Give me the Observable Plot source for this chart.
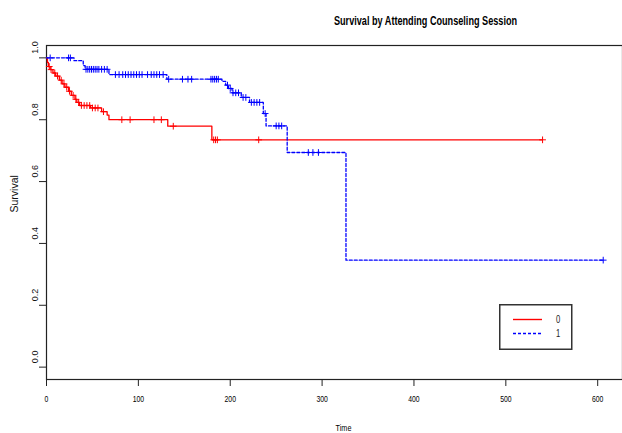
<!DOCTYPE html>
<html><head><meta charset="utf-8">
<script src="https://cdn.jsdelivr.net/npm/d3@7"></script>
<script src="https://cdn.jsdelivr.net/npm/@observablehq/plot@0.6"></script>
<style>
body{margin:0;background:#fff}
#wrap{position:relative;width:622px;height:433px;overflow:hidden}
#legend{position:absolute;left:499px;top:304px}
</style>
</head><body><div id="wrap"></div>
<script>
const REG = "'Liberation Sans',Arial,sans-serif";

const titleText = "Survival by Attending Counseling Session";
const xLabel = "Time";
const yLabel = "Survival";
const groups = ["0", "1"];
const colors = ["#ff0000", "#0000ff"];
const dashes = [null, "3,2"];

// group 0: event times and survival after each event
const time0 = [1, 2, 4, 7, 10, 14, 17, 20, 24, 27, 31, 33, 36, 48, 60, 66, 68, 132, 180];
const surv0 = [0.985, 0.972, 0.962, 0.951, 0.941, 0.928, 0.916, 0.905, 0.892, 0.879, 0.866, 0.856, 0.846, 0.838, 0.826, 0.815, 0.800, 0.779, 0.735];
const censor0 = [3, 5, 9, 12, 16, 19, 22, 25, 29, 32, 35, 38, 41, 44, 47, 50, 53, 56, 62, 82, 91, 117, 125, 138, 182, 184, 186, 231, 540];

// group 1
const time1 = [30, 40, 42, 68, 131, 191, 195, 198, 202, 212, 221, 236, 239, 262, 326];
const surv1 = [0.991, 0.975, 0.963, 0.946, 0.931, 0.924, 0.912, 0.901, 0.887, 0.872, 0.856, 0.820, 0.780, 0.694, 0.346];
const censor1 = [4, 24, 26, 43, 45, 47, 49, 51, 53, 55, 57, 60, 63, 66, 75, 79, 83, 86, 89, 92, 95, 98, 101, 104, 110, 114, 117, 120, 123, 127, 133, 148, 154, 158, 179, 181, 183, 185, 187, 197, 200, 203, 206, 209, 214, 217, 223, 226, 229, 232, 238, 250, 253, 256, 285, 290, 296, 606];

const xTicks = [0, 100, 200, 300, 400, 500, 600];
const yTicks = [0, 0.2, 0.4, 0.6, 0.8, 1.0];

function stepAt(times, survs, t) {
  let s = 1;
  for (let i = 0; i < times.length; i++) if (times[i] <= t) s = survs[i];
  return s;
}
function curve(times, survs, censor) {
  const pts = [{t: 0, s: 1}];
  times.forEach((t, i) => pts.push({t, s: survs[i]}));
  pts.push({t: d3.max(censor), s: survs[survs.length - 1]});
  return pts;
}
const series = [
  {times: time0, survs: surv0, censor: censor0},
  {times: time1, survs: surv1, censor: censor1}
];

const marks = [
  Plot.frame({stroke: "#222", strokeWidth: 1.2}),
  Plot.axisX(xTicks, {tickSize: 7, tickPadding: 9, fontSize: 9, fontFamily: REG, fill: "#000", stroke: "#222", label: null, className: "narrow"}),
  Plot.axisY(yTicks, {tickSize: 7, tickFormat: () => "", stroke: "#222", label: null}),
  Plot.text(yTicks, {y: d => d, text: d => d3.format(".1f")(d), frameAnchor: "left", dx: -11, dy: -4, rotate: -90, fontSize: 9, fontFamily: REG, fill: "#111"}),
  Plot.text([xLabel], {text: d => d, frameAnchor: "bottom", dx: 9, dy: 51, fontSize: 9.5, fontFamily: REG, fill: "#000", className: "narrow"}),
  Plot.text([yLabel], {text: d => d, frameAnchor: "left", dx: -32, dy: 0, rotate: -90, fontSize: 10.5, fontFamily: REG, fill: "#111"}),
  Plot.text([titleText], {text: d => d, frameAnchor: "top", dx: 91, dy: -29, fontSize: 12, fontWeight: "bold", fontFamily: REG, fill: "#000", className: "narrow"})
];
series.forEach((sr, i) => {
  marks.push(Plot.line(curve(sr.times, sr.survs, sr.censor), {x: "t", y: "s", curve: "step-after", stroke: colors[i], strokeWidth: 1.3, strokeDasharray: dashes[i]}));
  marks.push(Plot.dot(sr.censor.map(t => ({t, s: stepAt(sr.times, sr.survs, t)})), {x: "t", y: "s", symbol: "plus", r: 2.3, stroke: colors[i], strokeWidth: 1}));
});

const chart = Plot.plot({
  width: 622, height: 433,
  marginLeft: 46, marginRight: 0, marginTop: 45, marginBottom: 54,
  x: {domain: [0, 627]},
  y: {domain: [-0.04, 1.04]},
  style: {background: "#fff", overflow: "visible"},
  marks
});
const wrap = document.getElementById("wrap");
wrap.appendChild(chart);

// legend
const lg = d3.select(wrap).append("svg").attr("id", "legend").attr("width", 74).attr("height", 47);
lg.append("rect").attr("x", 0.75).attr("y", 0.75).attr("width", 72).attr("height", 44.5).attr("fill", "#fff").attr("stroke", "#333").attr("stroke-width", 1.5);
groups.forEach((g, i) => {
  const yy = 15.5 + i * 14;
  lg.append("line").attr("x1", 14).attr("x2", 43).attr("y1", yy).attr("y2", yy)
    .attr("stroke", colors[i]).attr("stroke-width", 1.4).attr("stroke-dasharray", dashes[i]);
  lg.append("text").attr("x", 59).attr("y", yy + 3.5).attr("text-anchor", "middle")
    .attr("font-family", REG).attr("font-size", 10).attr("fill", "#222").attr("class", "narrowtxt").text(g);
});

// condense horizontal text (the reference uses a narrow face)
wrap.querySelectorAll(".narrow text, text.narrowtxt").forEach(t => {
  const L = t.getComputedTextLength();
  if (L > 0) {
    t.setAttribute("textLength", (L * 0.76).toFixed(2));
    t.setAttribute("lengthAdjust", "spacingAndGlyphs");
  }
});
</script>
</body></html>
